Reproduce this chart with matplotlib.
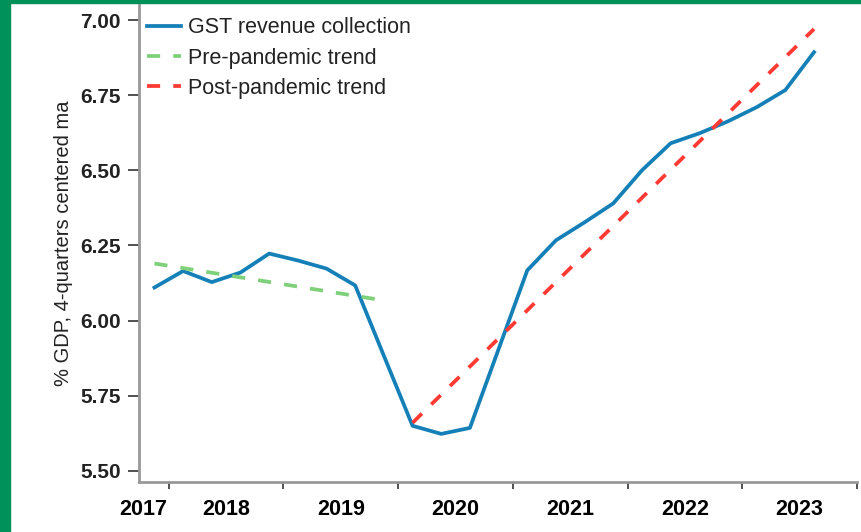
import matplotlib.pyplot as plt
from matplotlib.patches import Rectangle

# quarterly data, x = mid-quarter position in fractional years
quarters = [2017.875, 2018.125, 2018.375, 2018.625, 2018.875, 2019.125, 2019.375,
            2019.625, 2019.875, 2020.125, 2020.375, 2020.625, 2020.875, 2021.125,
            2021.375, 2021.625, 2021.875, 2022.125, 2022.375, 2022.625, 2022.875,
            2023.125, 2023.375, 2023.625]
gst = [6.11, 6.165, 6.128, 6.16, 6.223, 6.20, 6.173, 6.117,
       5.883, 5.65, 5.623, 5.643, 5.905, 6.167, 6.267, 6.327,
       6.39, 6.50, 6.59, 6.623, 6.663, 6.71, 6.767, 6.893]

pre_x = [2017.875, 2019.875]
pre_y = [6.19, 6.067]
post_x = [2020.125, 2023.625]
post_y = [5.66, 6.97]

year_bounds = [2018, 2019, 2020, 2021, 2022, 2023, 2024]
year_label_pos = [2017.78, 2018.5, 2019.5, 2020.5, 2021.5, 2022.5, 2023.5]
year_labels = ['2017', '2018', '2019', '2020', '2021', '2022', '2023']
yticks = [5.50, 5.75, 6.00, 6.25, 6.50, 6.75, 7.00]

plt.rcParams['font.family'] = ['Liberation Sans', 'DejaVu Sans']

fig = plt.figure(figsize=(8.61, 5.32), dpi=100)
ax = fig.add_axes([0.1614, 0.094, 0.834, 0.8966])

# green frame on the left and top
fig.patches.append(Rectangle((0, 0), 10 / 861, 1, transform=fig.transFigure,
                             color='#00905a', zorder=0))
fig.patches.append(Rectangle((0, 1 - 3 / 532), 1, 3 / 532, transform=fig.transFigure,
                             color='#00905a', zorder=0))

ax.plot(quarters, gst, color='#1580b8', linewidth=2.7, label='GST revenue collection')
ax.plot(pre_x, pre_y, color='#7fd07a', linewidth=2.7, dashes=(3.5, 3.5),
        label='Pre-pandemic trend')
ax.plot(post_x, post_y, color='#ff3a33', linewidth=2.7, dashes=(3.5, 3.5),
        label='Post-pandemic trend')

ax.set_xlim(2017.74, 2024.0)
ax.set_ylim(5.463, 7.05)

ax.set_yticks(yticks)
ax.set_yticklabels(['%.2f' % v for v in yticks], fontsize=15, color='#222222',
                   fontweight='bold')
ax.set_xticks(year_bounds)
ax.set_xticklabels([])
ax.set_xticks(year_label_pos, minor=True)
ax.set_xticklabels(year_labels, minor=True, fontsize=15.5, fontweight='bold')
ax.tick_params(axis='x', which='minor', length=0, pad=12)
ax.tick_params(axis='x', which='major', length=5, width=1.2, color='#333333')
ax.tick_params(axis='y', length=8, width=1.2, color='#333333', pad=5)

for s in ['top', 'right']:
    ax.spines[s].set_visible(False)
for s in ['left', 'bottom']:
    ax.spines[s].set_color('#999999')
    ax.spines[s].set_linewidth(2)

ax.set_ylabel('% GDP, 4-quarters centered ma', fontsize=14.5, color='#222222')
ax.yaxis.set_label_coords(-0.092, 0.5)

leg = ax.legend(loc='upper left', bbox_to_anchor=(0.0, 0.99), frameon=False,
                fontsize=15.5, handlelength=1.6, handletextpad=0.35,
                labelspacing=0.43, borderaxespad=0.15, borderpad=0.2)
for t in leg.get_texts():
    t.set_color('#222222')

fig.savefig('out.png', dpi=100)
